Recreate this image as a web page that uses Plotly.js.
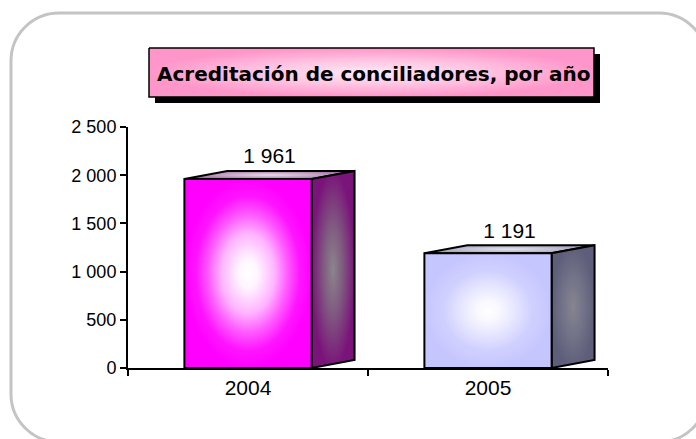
<!DOCTYPE html>
<html><head><meta charset="utf-8">
<script src="https://cdn.plot.ly/plotly-3.0.1.min.js"></script>
<style>html,body{margin:0;padding:0;background:#fff}#chart{width:696px;height:439px}</style>
</head><body><div id="chart"></div>
<script>
// ---- data ----
const categories = ['2004', '2005'];
const values = [1961, 1191];
const yTickValues = [0, 500, 1000, 1500, 2000, 2500];
const yTickLabels = ['0', '500', '1 000', '1 500', '2 000', '2 500'];
const titleText = 'Acreditación de conciliadores, por año';

// ---- layout helpers ----
const W = 696, H = 439;
const px = x => x / W, py = y => 1 - y / H;
const halfW = 0.265, depthX = 0.179, depthY = 83;

const faceColors = [
  {
    front: [[0, '#ffffff'], [0.15, '#fff6ff'], [0.42, '#ffb4ff'], [0.62, '#ff5cff'], [0.82, '#ff14ff'], [1, '#ff00ff']],
    side: [[0, '#8a868a'], [0.45, '#805a80'], [1, '#7a147a']],
    top: [[0, '#eadeea'], [1, '#a674a6']]
  },
  {
    front: [[0, '#ffffff'], [0.18, '#f8f8ff'], [0.45, '#e4e4ff'], [0.7, '#d0d0ff'], [1, '#c6c6ff']],
    side: [[0, '#86868e'], [0.45, '#74748a'], [1, '#5e5e7a']],
    top: [[0, '#e4e4ee'], [1, '#a2a2ba']]
  }
];

const traces = [];
const outline = {color: '#000', width: 2};
categories.forEach((c, i) => {
  const v = values[i], x0 = i - halfW, x1 = i + halfW;
  const fc = faceColors[i];
  traces.push({type: 'scatter', mode: 'lines', hoverinfo: 'skip', showlegend: false,
    x: [x0, x1, x1 + depthX, x0 + depthX, x0], y: [v, v, v + depthY, v + depthY, v],
    fill: 'toself', fillcolor: fc.top[1][1], fillgradient: {type: 'radial', colorscale: fc.top}, line: outline});
  traces.push({type: 'scatter', mode: 'lines', hoverinfo: 'skip', showlegend: false,
    x: [x1, x1 + depthX, x1 + depthX, x1, x1], y: [0, depthY, v + depthY, v, 0],
    fill: 'toself', fillcolor: fc.side[2][1], fillgradient: {type: 'radial', colorscale: fc.side}, line: outline});
  traces.push({type: 'scatter', mode: 'lines', hoverinfo: 'skip', showlegend: false, name: c,
    x: [x0, x1, x1, x0, x0], y: [0, 0, v, v, 0],
    fill: 'toself', fillcolor: fc.front[fc.front.length - 1][1], fillgradient: {type: 'radial', colorscale: fc.front}, line: outline});
});
// value labels
traces.push({type: 'scatter', mode: 'text', hoverinfo: 'skip', showlegend: false, cliponaxis: false,
  x: categories.map((c, i) => i + depthX / 2), y: values.map(v => v + depthY + 25),
  customdata: values, texttemplate: '%{customdata:,d}', textposition: 'top center',
  textfont: {family: 'Liberation Sans, Arial, sans-serif', size: 21, color: '#000'}});

// title box (decoration) on its own hidden axes
traces.push({type: 'scatter', mode: 'lines', hoverinfo: 'skip', showlegend: false, xaxis: 'x2', yaxis: 'y2',
  x: [149, 594, 594, 149, 149], y: [48, 48, 97, 97, 48], fill: 'toself', fillcolor: '#ff99cc',
  fillgradient: {type: 'radial', colorscale: [[0, '#ffeaf5'], [0.5, '#ffc4e2'], [1, '#ff96ca']]},
  line: {color: '#000', width: 1.5}});

// rounded border path in paper coords
const bx0 = 11, bx1 = 707, by0 = 13, by1 = 442, R = 48, k = 0.5523 * R;
const P = (x, y) => px(x).toFixed(5) + ',' + py(y).toFixed(5);
const borderPath = 'M ' + P(bx0 + R, by0) + ' L ' + P(bx1 - R, by0) +
  ' C ' + P(bx1 - R + k, by0) + ' ' + P(bx1, by0 + R - k) + ' ' + P(bx1, by0 + R) +
  ' L ' + P(bx1, by1 - R) +
  ' C ' + P(bx1, by1 - R + k) + ' ' + P(bx1 - R + k, by1) + ' ' + P(bx1 - R, by1) +
  ' L ' + P(bx0 + R, by1) +
  ' C ' + P(bx0 + R - k, by1) + ' ' + P(bx0, by1 - R + k) + ' ' + P(bx0, by1 - R) +
  ' L ' + P(bx0, by0 + R) +
  ' C ' + P(bx0, by0 + R - k) + ' ' + P(bx0 + R - k, by0) + ' ' + P(bx0 + R, by0) + ' Z';

const tickFontY = {family: 'Liberation Sans, Arial, sans-serif', size: 18, color: '#000'};
const tickFontX = {family: 'Liberation Sans, Arial, sans-serif', size: 21, color: '#000'};

const layout = {
  width: W, height: H,
  margin: {l: 0, r: 0, t: 0, b: 0},
  paper_bgcolor: '#fff', plot_bgcolor: 'rgba(0,0,0,0)',
  separators: ', ',
  showlegend: false,
  xaxis: {domain: [px(128), px(608)], range: [-0.5, 1.5], anchor: 'y',
    tickmode: 'array', tickvals: [0, 1], ticktext: categories, ticks: '',
    tickfont: tickFontX, ticklabelstandoff: 0,
    minor: {tickmode: 'array', tickvals: [-0.5, 0.5, 1.5], ticks: 'outside', ticklen: 6, tickwidth: 2, tickcolor: '#000', showgrid: false},
    showline: true, linecolor: '#000', linewidth: 2, showgrid: false, zeroline: false, fixedrange: true},
  yaxis: {domain: [py(368), py(127)], range: [0, 2500], anchor: 'x',
    tickmode: 'array', tickvals: yTickValues, ticktext: yTickLabels,
    ticks: 'outside', ticklen: 6, tickwidth: 2, tickcolor: '#000', tickfont: tickFontY,
    showline: true, linecolor: '#000', linewidth: 2, showgrid: false, zeroline: false, fixedrange: true},
  xaxis2: {domain: [px(145), px(598)], range: [145, 598], visible: false, fixedrange: true, anchor: 'y2'},
  yaxis2: {domain: [py(101), py(44)], range: [101, 44], visible: false, fixedrange: true, anchor: 'x2'},
  shapes: [
    {type: 'path', xref: 'paper', yref: 'paper', path: borderPath, line: {color: '#c4c4c4', width: 3}, layer: 'below'},
    {type: 'rect', xref: 'paper', yref: 'paper', x0: px(155), x1: px(600), y0: py(103), y1: py(54),
      fillcolor: '#000', line: {width: 0}, layer: 'below'}
  ],
  annotations: [
    {text: '<b>' + titleText + '</b>', xref: 'paper', yref: 'paper', x: px(373.5), y: py(74),
      xanchor: 'center', yanchor: 'middle', showarrow: false,
      font: {family: 'DejaVu Sans, sans-serif', size: 20, color: '#000'}}
  ]
};

Plotly.newPlot('chart', traces, layout, {staticPlot: true, displayModeBar: false});
</script>
</body></html>
